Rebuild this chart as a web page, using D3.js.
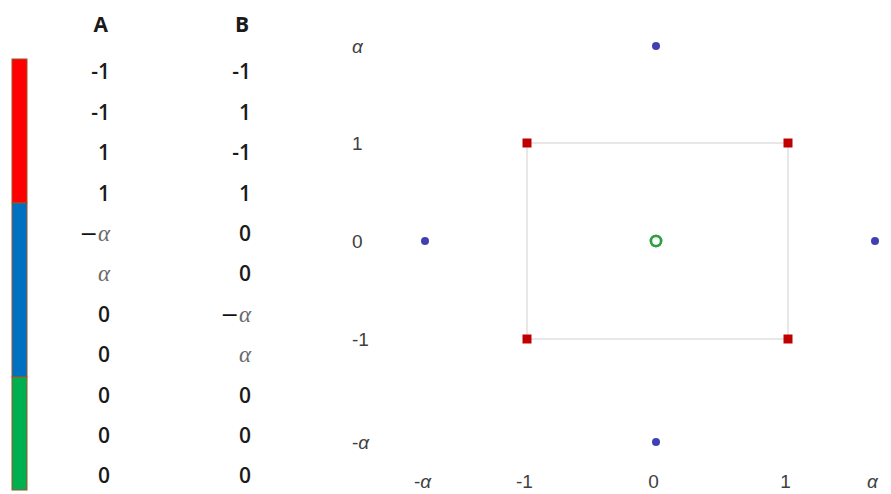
<!DOCTYPE html>
<html>
<head>
<meta charset="utf-8">
<script src="https://cdn.jsdelivr.net/npm/d3@7"></script>
<style>
  body { margin: 0; background: #fff; }
  svg { display: block; }
</style>
</head>
<body>
<div id="chart"></div>
<script>
// design table: two factors, coded levels ("a" = alpha)
var columns = ["A", "B"];
var runA = ["-1", "-1", "1", "1", "-a", "a", "0", "0", "0", "0", "0"];
var runB = ["-1", "1", "-1", "1", "0", "0", "-a", "a", "0", "0", "0"];
var runType = ["factorial", "factorial", "factorial", "factorial",
               "axial", "axial", "axial", "axial",
               "center", "center", "center"];
var groups = ["factorial", "axial", "center"];
var groupCounts = [4, 4, 3];
var levelCodes = ["-a", "-1", "0", "1", "a"];
var levelLabels = ["-α", "-1", "0", "1", "α"];

var ALPHA = Math.SQRT2;
var codeValue = {"-a": -ALPHA, "-1": -1, "0": 0, "1": 1, "a": ALPHA};

var width = 891, height = 494;

var svg = d3.select("#chart").append("svg")
    .attr("width", width)
    .attr("height", height);

// ---------- table on the left ----------
var rowY = d3.scaleLinear().domain([0, runA.length - 1]).range([72, 476]);
var colX = d3.scaleOrdinal().domain(columns).range([110, 251]);
var groupColor = d3.scaleOrdinal().domain(groups).range(["#ff0000", "#0070c0", "#00b050"]);

// the colour bar does not line up exactly with the rows in the picture
var barY = d3.scaleLinear().domain([0, 4, 8, 11]).range([59, 203, 377, 490]);
var cum = 0;
var segs = groups.map(function(g, i) {
    var s = {group: g, start: cum, end: cum + groupCounts[i]};
    cum += groupCounts[i];
    return s;
});

svg.append("g").selectAll("rect")
    .data(segs)
    .enter().append("rect")
    .attr("x", 12)
    .attr("width", 15)
    .attr("y", function(d) { return barY(d.start); })
    .attr("height", function(d) { return barY(d.end) - barY(d.start); })
    .attr("fill", function(d) { return groupColor(d.group); })
    .attr("stroke", "#a0522d")
    .attr("stroke-width", 1);

svg.append("g").selectAll("text")
    .data(columns)
    .enter().append("text")
    .attr("x", function(d) { return colX(d) - 2; })
    .attr("y", 25)
    .attr("dy", "0.35em")
    .attr("text-anchor", "end")
    .style("font", "700 21px 'Open Sans', sans-serif")
    .attr("fill", "#1a1a1a")
    .text(function(d) { return d; });

var cells = [];
runA.forEach(function(v, i) {
    cells.push({col: "A", row: i, code: v});
    cells.push({col: "B", row: i, code: runB[i]});
});

var cellText = svg.append("g").selectAll("text")
    .data(cells)
    .enter().append("text")
    .attr("x", function(d) { return colX(d.col); })
    .attr("y", function(d) { return rowY(d.row); })
    .attr("dy", "0.35em")
    .attr("text-anchor", "end")
    .style("font", "600 21px 'Open Sans', sans-serif")
    .attr("fill", "#1a1a1a");

cellText.each(function(d) {
    var t = d3.select(this);
    if (d.code === "a" || d.code === "-a") {
        if (d.code === "-a") {
            t.append("tspan").style("font", "400 22px 'DejaVu Sans', sans-serif")
                .attr("fill", "#111").text("\u2212");
        }
        t.append("tspan")
            .style("font", "italic 400 23px 'Liberation Serif', serif")
            .attr("fill", "#6a6a6a")
            .text("α");
    } else {
        t.text(d.code);
    }
});

// ---------- design space scatter ----------
// axis positions in the picture are not evenly spaced, so use a polylinear scale
var x = d3.scaleLinear()
    .domain([-ALPHA, -1, 0, 1, ALPHA])
    .range([425, 527, 656, 788, 875]);
var y = d3.scaleLinear()
    .domain([-ALPHA, -1, 0, 1, ALPHA])
    .range([442, 339, 241, 143, 46]);

var tickVals = levelCodes.map(function(c) { return codeValue[c]; });
function tickLabel(v) {
    return levelLabels[tickVals.indexOf(v)];
}

function styleTicks(g) {
    g.select(".domain").remove();
    g.selectAll("text")
        .style("font", "19px 'Liberation Sans', Arial, sans-serif")
        .attr("fill", "#404040")
        .each(function() {
            var t = d3.select(this);
            var s = t.text();
            if (s.indexOf("α") >= 0) {
                t.text(null);
                if (s[0] === "-") t.append("tspan").text("-");
                t.append("tspan").style("font-style", "italic").text("α");
            }
        });
}

var xAxis = d3.axisBottom(x).tickValues(tickVals).tickFormat(tickLabel).tickSize(0);
var yAxis = d3.axisLeft(y).tickValues(tickVals).tickFormat(tickLabel).tickSize(0);

svg.append("g")
    .attr("class", "axis axis--x")
    .attr("transform", "translate(-3,471)")
    .call(xAxis)
    .call(styleTicks);

svg.append("g")
    .attr("class", "axis axis--y")
    .attr("transform", "translate(352,0)")
    .call(yAxis)
    .call(styleTicks)
    .selectAll("text")
    .attr("x", 0)
    .attr("text-anchor", "start");

var points = runA.map(function(a, i) {
    return {a: codeValue[a], b: codeValue[runB[i]], type: runType[i]};
});

// light frame joining the factorial corners
var corners = points.filter(function(d) { return d.type === "factorial"; })
    .slice()
    .sort(function(p, q) { return Math.atan2(p.b, p.a) - Math.atan2(q.b, q.a); });
var frame = d3.line()
    .x(function(d) { return x(d.a); })
    .y(function(d) { return y(d.b); })
    .curve(d3.curveLinearClosed);
svg.append("path")
    .attr("d", frame(corners))
    .attr("fill", "none")
    .attr("stroke", "#cfcfcf")
    .attr("stroke-width", 1);

svg.append("g").selectAll("rect")
    .data(points.filter(function(d) { return d.type === "factorial"; }))
    .enter().append("rect")
    .attr("x", function(d) { return x(d.a) - 4.5; })
    .attr("y", function(d) { return y(d.b) - 4.5; })
    .attr("width", 9)
    .attr("height", 9)
    .attr("fill", "#c00000");

svg.append("g").selectAll("circle")
    .data(points.filter(function(d) { return d.type === "axial"; }))
    .enter().append("circle")
    .attr("cx", function(d) { return x(d.a); })
    .attr("cy", function(d) { return y(d.b); })
    .attr("r", 4)
    .attr("fill", "#4040b0");

svg.append("g").selectAll("circle")
    .data(points.filter(function(d) { return d.type === "center"; }))
    .enter().append("circle")
    .attr("cx", function(d) { return x(d.a); })
    .attr("cy", function(d) { return y(d.b); })
    .attr("r", 5)
    .attr("fill", "#fff")
    .attr("stroke", "#2ea043")
    .attr("stroke-width", 2.5);
</script>
</body>
</html>
